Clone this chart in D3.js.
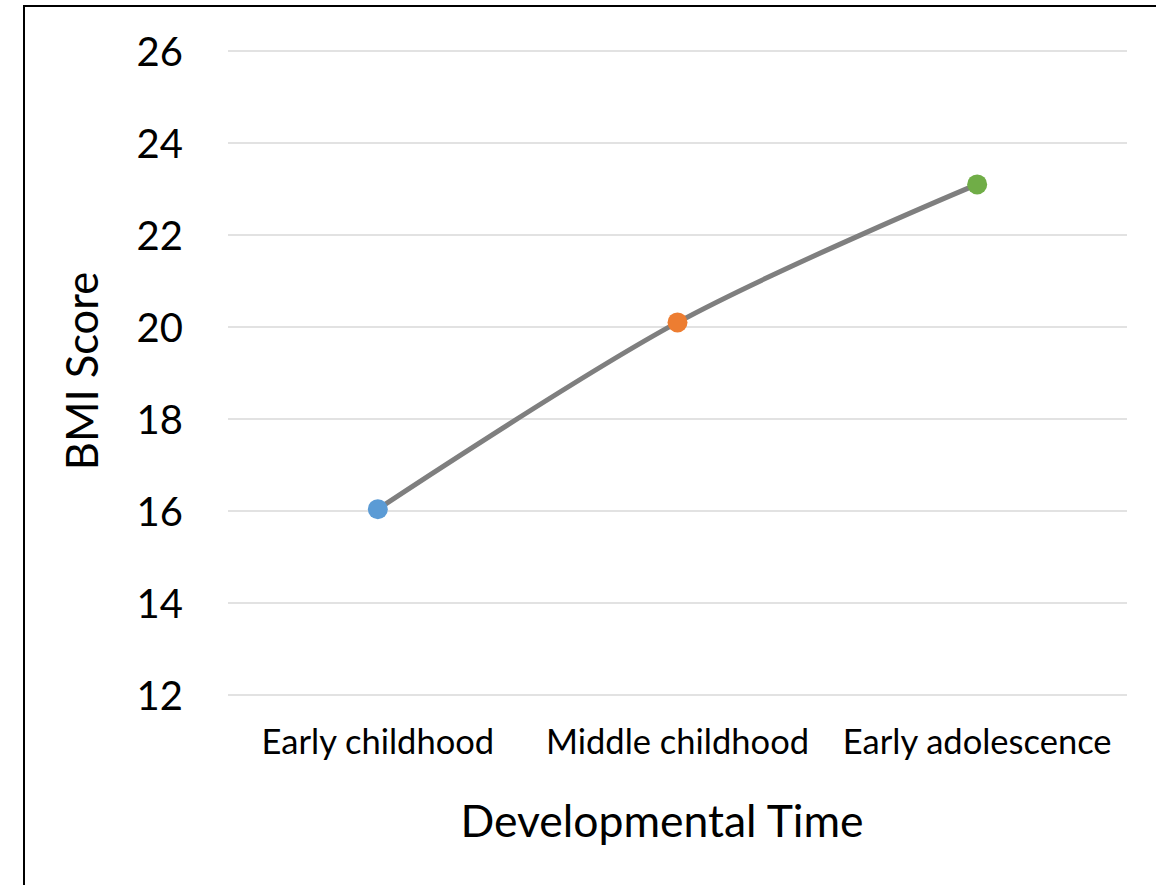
<!DOCTYPE html>
<html>
<head>
<meta charset="utf-8">
<script src="https://cdn.jsdelivr.net/npm/d3@7/dist/d3.min.js"></script>
<style>
  html, body { margin: 0; padding: 0; background: #fff; }
  svg { display: block; }
  text { font-family: Lato, Carlito, Calibri, "Open Sans", sans-serif; fill: #000; }
</style>
</head>
<body>
<svg id="chart" width="1156" height="885"></svg>
<script>
// BMI across developmental stages
const categories = ["Early childhood", "Middle childhood", "Early adolescence"];
const bmiValues = [16.04, 20.1, 23.1];
const pointColors = ["#5b9bd5", "#ed7d31", "#70ad47"];
const yTicks = [12, 14, 16, 18, 20, 22, 24, 26];
const xTitle = "Developmental Time";
const yTitle = "BMI Score";

const svg = d3.select("#chart");
const W = 1156, H = 885;
const plot = { left: 228, right: 1127, top: 51, bottom: 695 };

svg.append("rect").attr("width", W).attr("height", H).attr("fill", "#fff");

// chart frame (extends past the right and bottom edges)
svg.append("rect")
  .attr("x", 24).attr("y", 6)
  .attr("width", W + 20).attr("height", H + 20)
  .attr("fill", "none").attr("stroke", "#000").attr("stroke-width", 2);

const x = d3.scaleBand().domain(categories).range([plot.left, plot.right]);
const y = d3.scaleLinear().domain([12, 26]).range([plot.bottom, plot.top]);

// horizontal gridlines
svg.append("g")
  .selectAll("line").data(yTicks).join("line")
  .attr("x1", plot.left).attr("x2", plot.right)
  .attr("y1", d => y(d)).attr("y2", d => y(d))
  .attr("stroke", "#d9d9d9").attr("stroke-width", 1.5);

// y axis labels
const yAxis = svg.append("g")
  .attr("transform", `translate(${183},0)`)
  .call(d3.axisLeft(y).tickValues(yTicks).tickSize(0).tickPadding(0));
yAxis.select(".domain").remove();
yAxis.selectAll("text")
  .attr("font-size", 40)
  .attr("dy", "0.36em")
  .style("font-family", "Lato, Carlito, Calibri, sans-serif");

// x axis labels
const xAxis = svg.append("g")
  .attr("transform", `translate(0,${754})`)
  .call(d3.axisBottom(x).tickSize(0).tickPadding(0));
xAxis.select(".domain").remove();
xAxis.selectAll("text")
  .attr("font-size", 34.5)
  .attr("dy", 0)
  .style("font-family", "Lato, Carlito, Calibri, sans-serif");

// axis titles
svg.append("text")
  .attr("x", 662)
  .attr("y", 837)
  .attr("text-anchor", "middle")
  .attr("font-size", 44.5)
  .text(xTitle);

svg.append("text")
  .attr("transform", `translate(98,${371}) rotate(-90)`)
  .attr("text-anchor", "middle")
  .attr("font-size", 43.5)
  .text(yTitle);

// smoothed series line
const cx = d => x(d) + x.bandwidth() / 2;
const pts = categories.map((c, i) => ({ c, v: bmiValues[i], color: pointColors[i] }));
const line = d3.line()
  .x(d => cx(d.c))
  .y(d => y(d.v))
  .curve(d3.curveCatmullRom.alpha(0));

svg.append("path")
  .datum(pts)
  .attr("d", line)
  .attr("fill", "none")
  .attr("stroke", "#7f7f7f")
  .attr("stroke-width", 5)
  .attr("stroke-linecap", "round");

svg.append("g")
  .selectAll("circle").data(pts).join("circle")
  .attr("cx", d => cx(d.c))
  .attr("cy", d => y(d.v))
  .attr("r", 10)
  .attr("fill", d => d.color);
</script>
</body>
</html>
